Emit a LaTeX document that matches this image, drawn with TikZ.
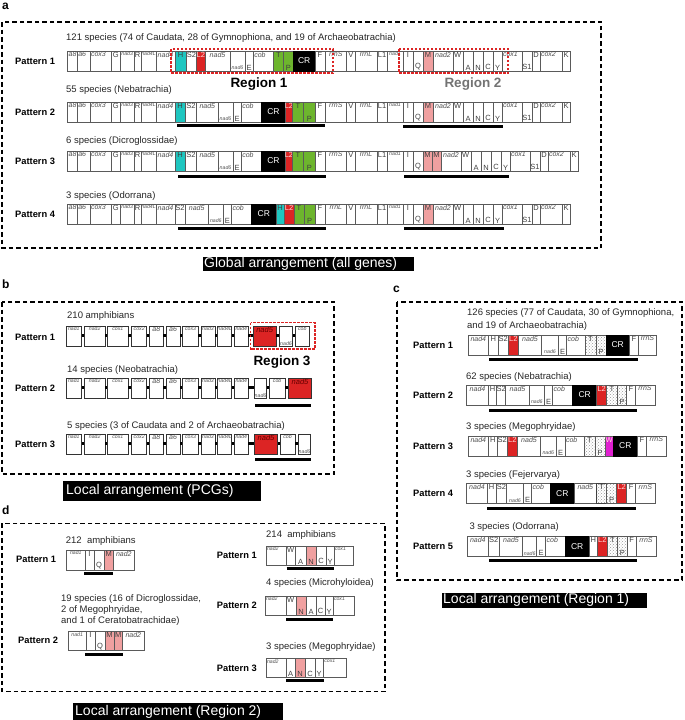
\documentclass[tikz,border=0pt]{standalone}
\usepackage{fontspec}
\setmainfont{Liberation Sans}
\usetikzlibrary{patterns}
\definecolor{cyH}{HTML}{1FC6C0}
\definecolor{rdL}{HTML}{DC2424}
\definecolor{grT}{HTML}{6DB52D}
\definecolor{pkM}{HTML}{F0A0A0}
\definecolor{mgW}{HTML}{E020D0}
\definecolor{bdr}{HTML}{5A5A5A}
\definecolor{gtx}{HTML}{505050}
\def\posn{north}\def\poss{south}\def\posc{center}\def\posw{north west}
\tikzset{
  x=1pt, y=-1pt,
  gbox/.style={draw=bdr, line width=0.65pt, inner sep=0pt, outer sep=0pt, anchor=north west},
  f-n/.style={fill=white},
  f-nb/.style={fill=white, draw=black!80, line width=0.8pt},
  f-cy/.style={fill=cyH},
  f-rd/.style={fill=rdL},
  f-rb/.style={fill=rdL, draw=black!80, line width=0.8pt},
  f-gr/.style={fill=grT},
  f-pk/.style={fill=pkM},
  f-bk/.style={fill=black, draw=black},
  f-mg/.style={fill=mgW},
  f-dt/.style={pattern=crosshatch dots, pattern color=gray!80},
  f-dtb/.style={f-dt, draw=black!75, line width=0.9pt},
  f-cn/.style={draw=none, fill=black, minimum height=3pt, yshift=-8pt},
  glab/.style={inner sep=0.8pt, font=\fontsize{7.5}{8}\selectfont},
  t-i/.style={glab, font=\fontsize{7}{8}\selectfont\itshape, text=gtx},
  t-s/.style={glab, font=\fontsize{5.2}{6}\selectfont\itshape, text=gtx},
  t-ri/.style={glab, font=\fontsize{7.5}{8}\selectfont\itshape, text=black!60!red},
  t-u/.style={glab, text=black!75},
  t-w/.style={glab, text=white!85!red},
  t-cr/.style={glab, font=\fontsize{8.5}{9}\selectfont, text=white},
  sp/.style={font=\fontsize{9.5}{11}\selectfont, anchor=west, inner sep=0pt, text=black!85},
  pat/.style={font=\fontsize{9.3}{11}\selectfont\bfseries, anchor=west, inner sep=0pt},
  reg/.style={font=\fontsize{13.5}{15}\selectfont\bfseries, inner sep=0pt},
  plet/.style={font=\fontsize{12}{14}\selectfont\bfseries, anchor=west, inner sep=0pt},
  blab/.style={font=\fontsize{14}{16}\selectfont, text=white, anchor=west, inner sep=0pt},
  frame/.style={draw=black, line width=1.2pt, dash pattern=on 4.5pt off 3pt},
  rframe/.style={draw=rdL, line width=1.2pt, dash pattern=on 2.5pt off 1.5pt},
  uline/.style={draw=black, line width=3pt}
}
% id, x0, ytop, height, list of width/label/pos/fill/textstyle
\newcommand\generow[5]{%
  \xdef\gx{#2}%
  \foreach \gw/\gl/\gp/\gf/\gt [count=\gi] in {#5}{%
    \node[gbox, minimum width=\gw pt, minimum height=#4pt, f-\gf] (g#1-\gi) at (\gx,#3) {};
    \edef\ganc{\csname pos\gp\endcsname}%
    \node[t-\gt, anchor=\ganc] (l#1-\gi) at (g#1-\gi.\ganc) {\gl};
    \pgfmathsetmacro\gxn{\gx+\gw}%
    \xdef\gx{\gxn}%
  }%
}
\begin{document}
\begin{tikzpicture}
\useasboundingbox (0,0) rectangle (685,720);
% ================= panel a =================
\node[plet] (pa) at (2,6) {a};
\draw[frame] (2,22) rectangle (601,248);
\node[sp] (sa1) at (66,38.5) {121 species (74 of Caudata, 28 of Gymnophiona, and 19 of Archaeobatrachia)};
\node[pat] (pa1) at (15,61) {Pattern 1};
\generow{a1}{67.7}{51}{20}{9.6/a8/w/n/i, 12.7/a6/w/n/i, 21.7/cox3/w/n/i, 8.3/G/n/n/u, 14.3/nad3/n/n/s, 6.7/R/n/n/u, 15/nad4L/n/n/s, 19/nad4/n/n/i,
 11/H/n/cy/u, 10.7/S2/n/n/u, 8.3/L2/n/rd/w, 25/nad5/n/n/i, 15/nad6/s/n/s, 8.3/E/s/n/u, 20/cob/w/n/i, 10/T/n/gr/u, 10/P/s/gr/u, 21.7/CR/c/bk/cr, 10/F/n/n/u, 21.7/rrnS/n/n/i,
 8.3/V/n/n/u, 22/rrnL/n/n/i, 10/L1/n/n/u, 16/nad1/n/n/s, 10/I/n/n/u, 10/Q/s/n/u, 10/M/n/pk/u, 20/nad2/n/n/i, 10/W/w/n/u, 10/A/s/n/u, 10/N/s/n/u, 10/C/s/n/u, 9/Y/s/n/u, 20/cox1/w/n/i, 10/S1/s/n/u, 8/D/n/n/u, 22/cox2/w/n/i, 8/K/n/n/u}
\draw[rframe] (171,49) rectangle (333,73);
\draw[rframe] (399,49) rectangle (508,73);
\node[reg] (r1) at (259,84) {Region 1};
\node[reg, text=black!55] (r2) at (473,84) {Region 2};
\node[sp] (sa2) at (66,90) {55 species (Nebatrachia)};
\node[pat] (pa2) at (15,112) {Pattern 2};
\generow{a2}{67.7}{102}{20}{9.6/a8/w/n/i, 12.7/a6/w/n/i, 21.7/cox3/w/n/i, 8.3/G/n/n/u, 14.3/nad3/n/n/s, 6.7/R/n/n/u, 15/nad4L/n/n/s, 19/nad4/n/n/i,
 10/H/n/cy/u, 11.7/S2/n/n/u, 21.3/nad5/n/n/i, 15/nad6/s/n/s, 8.3/E/s/n/u, 20/cob/w/n/i, 24.3/CR/c/bk/cr, 6.7/L2/n/rd/w, 11.3/T/n/gr/u, 11.4/P/s/gr/u, 10/F/n/n/u, 21.7/rrnS/n/n/i,
 8.3/V/n/n/u, 22/rrnL/n/n/i, 10/L1/n/n/u, 16/nad1/n/n/s, 10/I/n/n/u, 10/Q/s/n/u, 10/M/n/pk/u, 20/nad2/n/n/i, 10/W/w/n/u, 10/A/s/n/u, 10/N/s/n/u, 10/C/s/n/u, 9/Y/s/n/u, 20/cox1/w/n/i, 10/S1/s/n/u, 8/D/n/n/u, 22/cox2/w/n/i, 8/K/n/n/u}
\draw[uline] (177,125) -- (325,125);
\draw[uline] (403,126) -- (503,126);
\node[sp] (sa3) at (66,141) {6 species (Dicroglossidae)};
\node[pat] (pa3) at (15,161) {Pattern 3};
\generow{a3}{67.7}{151}{20}{9.6/a8/w/n/i, 12.7/a6/w/n/i, 21.7/cox3/w/n/i, 8.3/G/n/n/u, 14.3/nad3/n/n/s, 6.7/R/n/n/u, 15/nad4L/n/n/s, 19/nad4/n/n/i,
 10/H/n/cy/u, 11.7/S2/n/n/u, 21.3/nad5/n/n/i, 15/nad6/s/n/s, 8.3/E/s/n/u, 20/cob/w/n/i, 24.3/CR/c/bk/cr, 6.7/L2/n/rd/w, 11.3/T/n/gr/u, 11.4/P/s/gr/u, 10/F/n/n/u, 21.7/rrnS/n/n/i,
 8.3/V/n/n/u, 22/rrnL/n/n/i, 10/L1/n/n/u, 16/nad1/n/n/s, 10/I/n/n/u, 10/Q/s/n/u, 9/M/n/pk/u, 9/M/n/pk/u, 20/nad2/n/n/i, 10/W/w/n/u, 10/A/s/n/u, 10/N/s/n/u, 10/C/s/n/u, 9/Y/s/n/u, 20/cox1/w/n/i, 10/S1/s/n/u, 8/D/n/n/u, 22/cox2/w/n/i, 8/K/n/n/u}
\draw[uline] (178,176) -- (326,176);
\draw[uline] (404,176) -- (509,176);
\node[sp] (sa4) at (66,196) {3 species (Odorrana)};
\node[pat] (pa4) at (15,214) {Pattern 4};
\generow{a4}{67.7}{204}{20}{9.6/a8/w/n/i, 12.7/a6/w/n/i, 21.7/cox3/w/n/i, 8.3/G/n/n/u, 14.3/nad3/n/n/s, 6.7/R/n/n/u, 15/nad4L/n/n/s, 19/nad4/n/n/i,
 10/S2/n/n/u, 23.3/nad5/n/n/i, 15/nad6/s/n/s, 8.3/E/s/n/u, 20/cob/w/n/i, 24.4/CR/c/bk/cr, 8/H/n/cy/u, 10/L2/n/rd/w, 10/T/n/gr/u, 11/P/s/gr/u, 10/F/n/n/u, 21.7/rrnL/n/n/i,
 8.3/V/n/n/u, 22/rrnL/n/n/i, 10/L1/n/n/u, 16/nad1/n/n/s, 10/I/n/n/u, 10/Q/s/n/u, 10/M/n/pk/u, 20/nad2/n/n/i, 10/W/w/n/u, 10/A/s/n/u, 10/N/s/n/u, 10/C/s/n/u, 9/Y/s/n/u, 20/cox1/w/n/i, 10/S1/s/n/u, 8/D/n/n/u, 22/cox2/w/n/i, 8/K/n/n/u}
\draw[uline] (178,228) -- (326,228);
\draw[uline] (404,228) -- (504,228);
\fill (203,257) rectangle (414,271);
\node[blab] (ga) at (204,264) {Global arrangement (all genes)};
% ================= panel b =================
\node[plet] (pb) at (2,284) {b};
\draw[frame] (2,302) rectangle (334,474);
\node[sp] (sb1) at (67,316) {210 amphibians};
\node[pat] (pb1) at (15,337) {Pattern 1};
\generow{b1}{66}{326}{20.5}{15.7/nad1/n/nb/s, 2.6//c/cn/u, 20.7/nad2/n/nb/s, 2.3//c/cn/u, 21/cox1/n/nb/s, 3.4//c/cn/u, 15/cox2/n/nb/s, 2.6//c/cn/u, 14/a8/n/nb/i, 2.7//c/cn/u, 14/a6/n/nb/i, 2.7//c/cn/u, 15.6/cox3/n/nb/s, 2.7//c/cn/u, 14/nad3/n/nb/s, 2.7//c/cn/u, 14/nad4L/n/nb/s, 2.6//c/cn/u, 14/nad4/n/nb/s, 5//c/cn/u, 22.7/nad5/n/rb/ri, 3.3//c/cn/u, 13.4/nad6/s/nb/s, 2.6//c/cn/u, 14/cob/n/nb/s}
\draw[rframe] (250.7,322.7) rectangle (315,349);
\node[reg] (r3) at (282,362) {Region 3};
\node[sp] (sb2) at (67,370) {14 species (Neobatrachia)};
\node[pat] (pb2) at (15,388) {Pattern 2};
\generow{b2}{66}{378}{20.5}{15.7/nad1/n/nb/s, 2.6//c/cn/u, 20.7/nad2/n/nb/s, 2.3//c/cn/u, 21/cox1/n/nb/s, 3.4//c/cn/u, 15/cox2/n/nb/s, 2.6//c/cn/u, 14/a8/n/nb/i, 2.7//c/cn/u, 14/a6/n/nb/i, 2.7//c/cn/u, 15.6/cox3/n/nb/s, 2.7//c/cn/u, 14/nad3/n/nb/s, 2.7//c/cn/u, 14/nad4L/n/nb/s, 2.6//c/cn/u, 14/nad4/n/nb/s, 6//c/cn/u, 12.4/nad6/s/nb/s, 2.6//c/cn/u, 15.7/cob/n/nb/s, 3.3//c/cn/u, 23.4/nad5/n/rb/ri}
\draw[uline] (255,405) -- (310.7,405);
\node[sp] (sb3) at (67,425.7) {5 species (3 of Caudata and 2 of Archaeobatrachia)};
\node[pat] (pb3) at (15,444) {Pattern 3};
\generow{b3}{66}{434}{20.5}{15.7/nad1/n/nb/s, 2.6//c/cn/u, 20.7/nad2/n/nb/s, 2.3//c/cn/u, 21/cox1/n/nb/s, 3.4//c/cn/u, 15/cox2/n/nb/s, 2.6//c/cn/u, 14/a8/n/nb/i, 2.7//c/cn/u, 14/a6/n/nb/i, 2.7//c/cn/u, 15.6/cox3/n/nb/s, 2.7//c/cn/u, 14/nad3/n/nb/s, 2.7//c/cn/u, 14/nad4L/n/nb/s, 2.6//c/cn/u, 14/nad4/n/nb/s, 6//c/cn/u, 23.4/nad5/n/rb/ri, 2.3//c/cn/u, 15/cob/n/nb/s, 3.3//c/cn/u, 12.4/nad6/s/nb/s}
\draw[uline] (255,459) -- (310.7,459);
\fill (63,481) rectangle (261,501);
\node[blab] (gb) at (66,491) {Local arrangement (PCGs)};
% ================= panel c =================
\node[plet] (pc) at (393,289) {c};
\draw[frame] (397,302) rectangle (682,580);
\node[sp] (sc1) at (467,313) {126 species (77 of Caudata, 30 of Gymnophiona,};
\node[sp] (sc1b) at (467,326) {and 19 of Archaeobatrachia)};
\node[pat] (pc1) at (413,345) {Pattern 1};
\generow{c1}{468.3}{335}{20}{20/nad4/n/n/i, 10/H/n/n/u, 10/S2/n/n/u, 10/L2/n/rd/w, 23.4/nad5/n/n/i, 16.6/nad6/s/n/s, 8.4/E/s/n/u, 18.3/cob/w/n/i, 11/T/n/dt/u, 10/P/s/dt/u, 23.3/CR/c/bk/cr, 9/F/n/n/u, 18.4/rrnS/n/n/i}
\draw[uline] (489.3,359.3) -- (638.3,359.3);
\node[sp] (sc2) at (466,376.7) {62 species (Nebatrachia)};
\node[pat] (pc2) at (413,395) {Pattern 2};
\generow{c2}{466.7}{385}{20}{21.6/nad4/n/n/i, 8.4/H/n/n/u, 9/S2/n/n/u, 23.6/nad5/n/n/i, 15/nad6/s/n/s, 8.4/E/s/n/u, 20/cob/w/n/i, 24/CR/c/bk/cr, 10/L2/n/rd/w, 10.6/T/n/dt/u, 9.4/P/s/dt/u, 8.3/F/n/n/u, 20/rrnS/n/n/i}
\draw[uline] (489.3,410) -- (637.3,410);
\node[sp] (sc3) at (466,426.7) {3 species (Megophryidae)};
\node[pat] (pc3) at (413,446) {Pattern 3};
\generow{c3}{468.3}{436}{20}{20/nad4/n/n/i, 9/H/n/n/u, 10/S2/n/n/u, 10/L2/n/rd/w, 23.4/nad5/n/n/i, 15.3/nad6/s/n/s, 9/E/s/n/u, 19/cob/w/n/i, 11/T/n/dt/u, 10/P/s/dt/u, 8.3/W/n/mg/w, 24/CR/c/bk/cr, 9.4/F/n/n/u, 19.3/rrnS/n/n/i}
\node[sp] (sc4) at (466,475) {3 species (Fejervarya)};
\node[pat] (pc4) at (413,493.3) {Pattern 4};
\generow{c4}{466.7}{483.3}{20}{20.6/nad4/n/n/i, 8.7/H/n/n/u, 10.7/S2/n/n/u, 16.6/nad6/s/n/s, 8.4/E/s/n/u, 19/cob/w/n/i, 23.3/CR/c/bk/cr, 22.7/nad5/n/n/i, 10/T/n/dtb/u, 10/P/s/dt/u, 10/L2/n/rd/w, 9/F/n/n/u, 19.3/rrnS/n/n/i}
\draw[uline] (487.3,508) -- (635.7,508);
\node[sp] (sc5) at (469.3,527.3) {3 species (Odorrana)};
\node[pat] (pc5) at (413,546.7) {Pattern 5};
\generow{c5}{467.3}{536.7}{20}{21/nad4/n/n/i, 11/S2/n/n/u, 23.4/nad5/n/n/i, 14/nad6/s/n/s, 9/E/s/n/u, 19.3/cob/w/n/i, 24.3/CR/c/bk/cr, 8/H/n/n/u, 10/L2/n/rd/w, 10/T/n/dt/u, 10/P/s/dt/u, 8.7/F/n/n/u, 20/rrnS/n/n/i}
\draw[uline] (489.3,560) -- (637.3,560);
\fill (441.7,592.7) rectangle (646.7,608);
\node[blab] (gc) at (443,600.3) {Local arrangement (Region 1)};
% ================= panel d =================
\node[plet] (pd) at (2,510.7) {d};
\draw[frame] (2,523.3) rectangle (385,691.7);
\node[sp] (sd1) at (65.7,540.7) {212\ \ amphibians};
\node[pat] (pd1) at (16,559) {Pattern 1};
\generow{d1}{66.7}{550}{20}{18.3/nad1/n/n/s, 9/I/n/n/u, 10/Q/s/n/u, 9.3/M/n/pk/u, 21/nad2/n/n/i}
\draw[uline] (84,573.3) -- (113.3,573.3);
\node[sp, align=left] (sd2) at (61,610) {19 species (16 of Dicroglossidae,\\2 of Megophryidae,\\and 1 of Ceratobatrachidae)};
\node[pat] (pd2) at (18,640) {Pattern 2};
\generow{d2}{68.3}{631.7}{19}{17.7/nad1/n/n/s, 9/I/n/n/u, 10/Q/s/n/u, 9/M/n/pk/u, 8.7/M/n/pk/u, 21.3/nad2/n/n/i}
\draw[uline] (85,654) -- (122.7,654);
\node[sp] (sd3) at (266,535) {214\ \ amphibians};
\node[pat] (pd3) at (216.7,555.5) {Pattern 1};
\generow{d3}{266}{546}{19}{20/nad2/w/n/s, 9/W/w/n/u, 11/A/s/n/u, 10/N/s/pk/u, 10/C/s/n/u, 8/Y/s/n/u, 19.3/cox1/w/n/s}
\draw[uline] (286.7,568.3) -- (334,568.3);
\node[sp] (sd4) at (266,583.3) {4 species (Microhyloidea)};
\node[pat] (pd4) at (216.7,605.5) {Pattern 2};
\generow{d4}{265}{596}{19}{21/nad2/w/n/s, 10/W/w/n/u, 10/N/s/pk/u, 10/A/s/n/u, 9/C/s/n/u, 8/Y/s/n/u, 21/cox1/w/n/s}
\draw[uline] (286,619) -- (333.3,619);
\node[sp] (sd5) at (266,647.3) {3 species (Megophryidae)};
\node[pat] (pd5) at (216.7,668) {Pattern 3};
\generow{d5}{266}{658.3}{19}{20/nad2/w/n/s, 9/A/s/n/u, 10/N/s/pk/u, 10/C/s/n/u, 8.3/Y/s/n/u, 23.4/cox1/w/n/s}
\draw[uline] (286,680.7) -- (324,680.7);
\fill (73,703.3) rectangle (282.7,720);
\node[blab] (gd) at (75,711.7) {Local arrangement (Region 2)};
\end{tikzpicture}
\end{document}
